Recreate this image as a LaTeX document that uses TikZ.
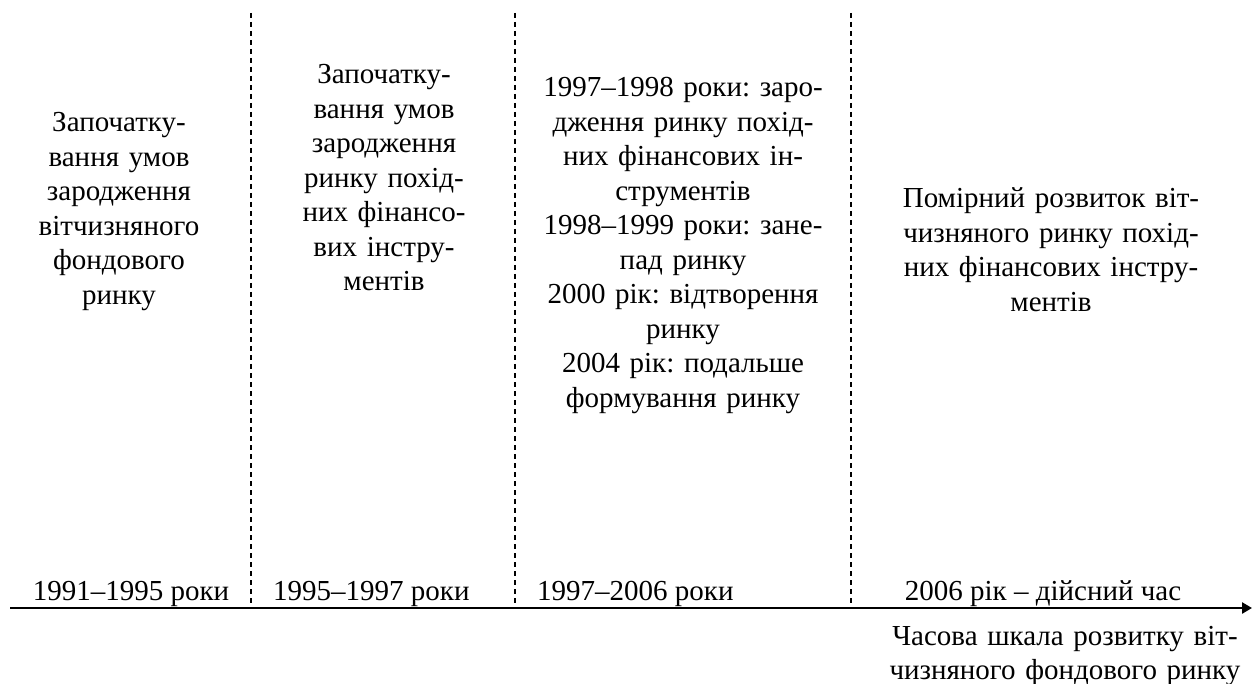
\documentclass[tikz,border=0pt]{standalone}
\usepackage{fontspec}
\setmainfont{Liberation Serif}
\usetikzlibrary{arrows.meta}
\frenchspacing
\begin{document}
\begin{tikzpicture}[x=1pt,y=-1pt,
  txt/.style={font={\frenchspacing\fontsize{29}{34.5}\selectfont}, inner sep=0pt, align=center, anchor=base},
  col/.style={txt, text width=#1},
  sep/.style={line width=1.3pt, dash pattern=on 5pt off 4pt},
  axisline/.style={line width=2.5pt, -{Triangle[length=10pt,width=11pt]}}]
\useasboundingbox (0,0) rectangle (1252,684);
% axis
\coordinate (axs) at (10,608);
\coordinate (axe) at (1252,608);
\draw[axisline] (axs) -- (axe);
% separators
\coordinate (s1t) at (251,13); \coordinate (s1b) at (251,608);
\coordinate (s2t) at (515,13); \coordinate (s2b) at (515,608);
\coordinate (s3t) at (851,13); \coordinate (s3b) at (851,608);
\draw[sep] (s1t) -- (s1b);
\draw[sep] (s2t) -- (s2b);
\draw[sep] (s3t) -- (s3b);
% column texts
\node[col=240pt] (c1) at (119,132) {Започатку-\\вання умов\\зародження\\вітчизняного\\фондового\\ринку};
\node[col=250pt] (c2) at (384,84) {Започатку-\\вання умов\\зародження\\ринку похід-\\них фінансо-\\вих інстру-\\ментів};
\node[col=330pt] (c3) at (683,97) {1997–1998 роки: заро-\\дження ринку похід-\\них фінансових ін-\\струментів\\1998–1999 роки: зане-\\пад ринку\\2000 рік: відтворення\\ринку\\2004 рік: подальше\\формування ринку};
\node[col=390pt] (c4) at (1051,208) {Помірний розвиток віт-\\чизняного ринку похід-\\них фінансових інстру-\\ментів};
% period labels
\node[txt] (p1) at (131,600) {1991–1995 роки};
\node[txt, anchor=base west] (p2) at (273,600) {1995–1997 роки};
\node[txt, anchor=base west] (p3) at (537,600) {1997–2006 роки};
\node[txt] (p4) at (1043,600) {2006 рік – дійсний час};
% axis caption
\node[col=390pt] (cap) at (1065,645) {Часова шкала розвитку віт-\\чизняного фондового ринку};
\end{tikzpicture}
\end{document}
